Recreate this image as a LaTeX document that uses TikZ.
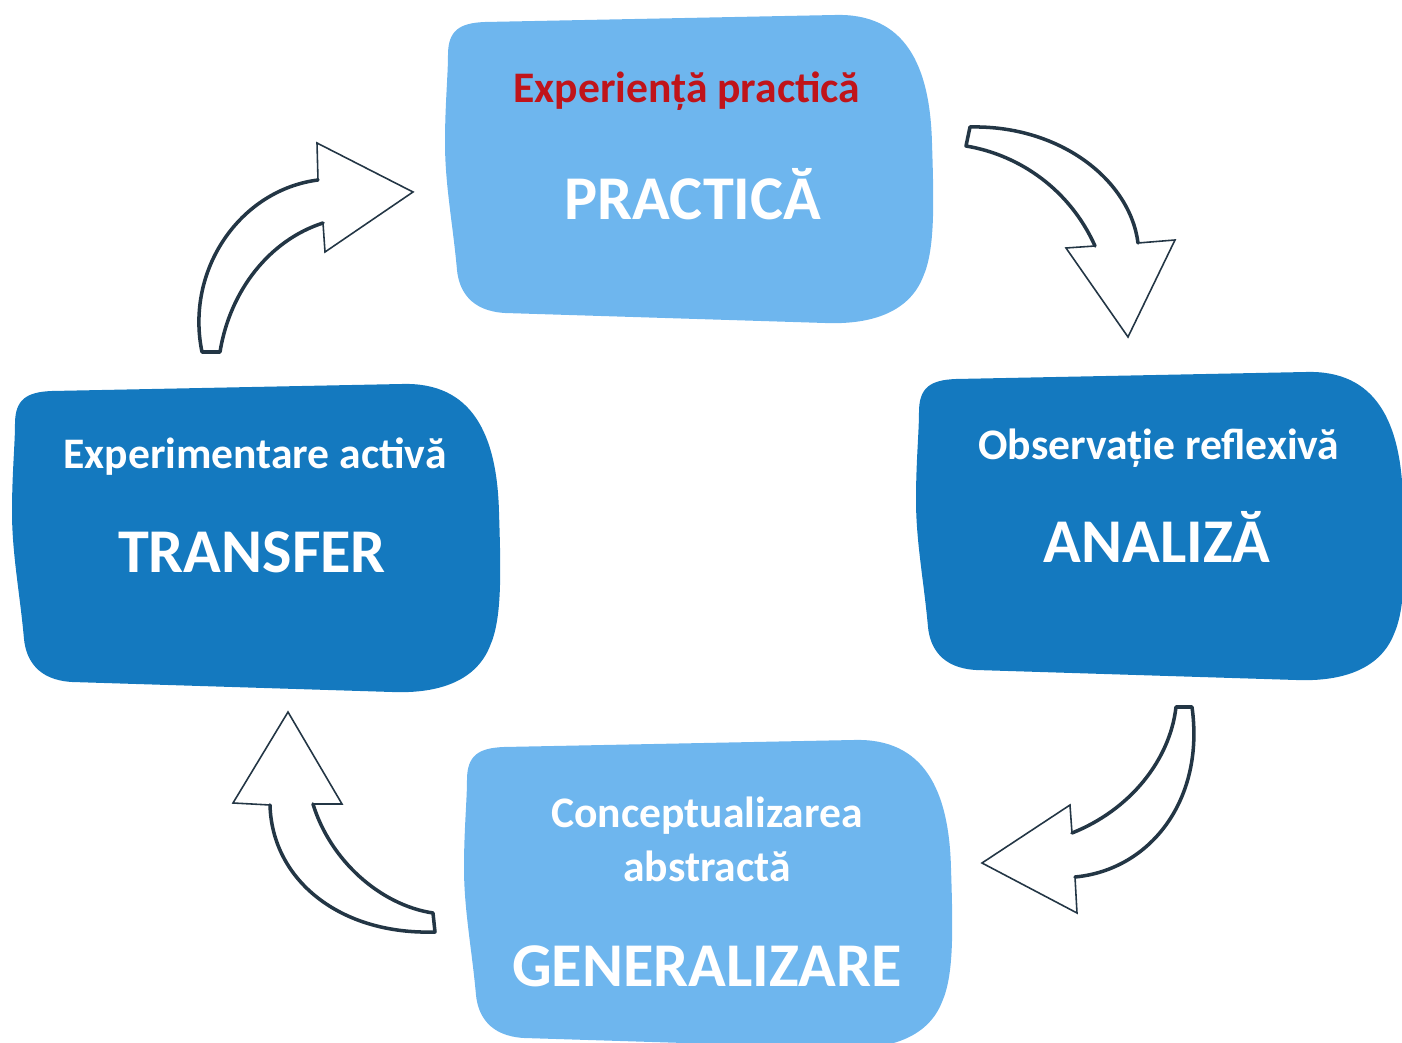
\documentclass[tikz,border=0pt]{standalone}
\usepackage{fontspec}
\setmainfont{Carlito}
\usetikzlibrary{positioning}
\definecolor{lightbox}{HTML}{6EB6EE}
\definecolor{darkbox}{HTML}{1479BF}
\definecolor{redtext}{HTML}{C0141A}
\definecolor{arrowline}{HTML}{233645}

% wobbly box, local pixel coordinates, origin at its top left
\newcommand{\blobpath}{(3,40) .. controls (3,15) and (15,8) .. (40,7)
  -- (390,0) .. controls (460,-2) and (485,50) .. (487,128)
  .. controls (489,190) and (490,235) .. (478,262)
  .. controls (465,295) and (430,310) .. (380,308)
  -- (60,298) .. controls (25,296) and (14,275) .. (12,255)
  .. controls (8,210) and (0,170) .. (0,128)
  .. controls (0,90) and (3,60) .. (3,40) -- cycle}

\begin{document}
\begin{tikzpicture}[x=0.01cm,y=-0.01cm,
  bigtext/.style={text=white,font=\bfseries\fontsize{17.7}{20}\selectfont,anchor=base,inner sep=0pt},
  smalltext/.style={text=white,font=\bfseries\fontsize{12.4}{15.4}\selectfont,anchor=base,inner sep=0pt,align=center}]
 \tikzstyle{blockarrow}=[fill=white,draw=arrowline,line width=0.45pt,line join=miter]
 \tikzstyle{arrowbody}=[draw=arrowline,line width=1pt,line cap=round,line join=round]

 \useasboundingbox (0,0) rectangle (1402,1043);

 % the four boxes
 \fill[lightbox,shift={(445,15)}] \blobpath;
 \fill[darkbox,shift={(916,372)}] \blobpath;
 \fill[darkbox,shift={(12,384)}] \blobpath;
 \fill[lightbox,shift={(464,740)}] \blobpath;

 \node[bigtext] (practica) at (693,220) {PRACTICĂ};
 \node[smalltext,text=redtext] (experienta) at (687,103) {Experiență practică};

 \node[bigtext] (analiza) at (1157,563) {ANALIZĂ};
 \node[smalltext] (observatie) at (1159,460) {Observație reflexivă};

 \node[bigtext] (transfer) at (252,573) {TRANSFER};
 \node[smalltext] (experimentare) at (255,469) {Experimentare activă};

 \node[bigtext] (generalizare) at (707,987) {GENERALIZARE};
 \node[smalltext] (concept) at (707,828) {Conceptualizarea};
 \node[smalltext] (abstracta) at (707,882) {abstractă};

 % curved block arrows
 \draw[blockarrow] (970,127) .. controls (1060,125) and (1130,180) .. (1138,243)
   -- (1175,240) -- (1128,337) -- (1066,248) -- (1095,246)
   .. controls (1070,190) and (1020,155) .. (966,146) -- cycle;
 \draw[arrowbody] (1138,243) .. controls (1130,180) and (1060,125) .. (970,127)
   -- (966,146) .. controls (1020,155) and (1070,190) .. (1095,246);

 \draw[blockarrow] (1192,707) .. controls (1205,800) and (1150,870) .. (1075,877)
   -- (1077,913) -- (982,863) -- (1070,805) -- (1072,833)
   .. controls (1130,810) and (1170,760) .. (1176,707) -- cycle;
 \draw[arrowbody] (1075,877) .. controls (1150,870) and (1205,800) .. (1192,707)
   -- (1176,707) .. controls (1170,760) and (1130,810) .. (1072,833);

 \draw[blockarrow] (435,932) .. controls (340,935) and (272,880) .. (270,805)
   -- (233,803) -- (288,712) -- (342,804) -- (313,804)
   .. controls (330,860) and (380,905) .. (433,913) -- cycle;
 \draw[arrowbody] (270,805) .. controls (272,880) and (340,935) .. (435,932)
   -- (433,913) .. controls (380,905) and (330,860) .. (313,804);

 \draw[blockarrow] (202,352) .. controls (185,270) and (240,190) .. (318,180)
   -- (317,143) -- (413,192) -- (325,252) -- (323,223)
   .. controls (270,240) and (230,290) .. (220,352) -- cycle;
 \draw[arrowbody] (318,180) .. controls (240,190) and (185,270) .. (202,352)
   -- (220,352) .. controls (230,290) and (270,240) .. (323,223);
\end{tikzpicture}
\end{document}
